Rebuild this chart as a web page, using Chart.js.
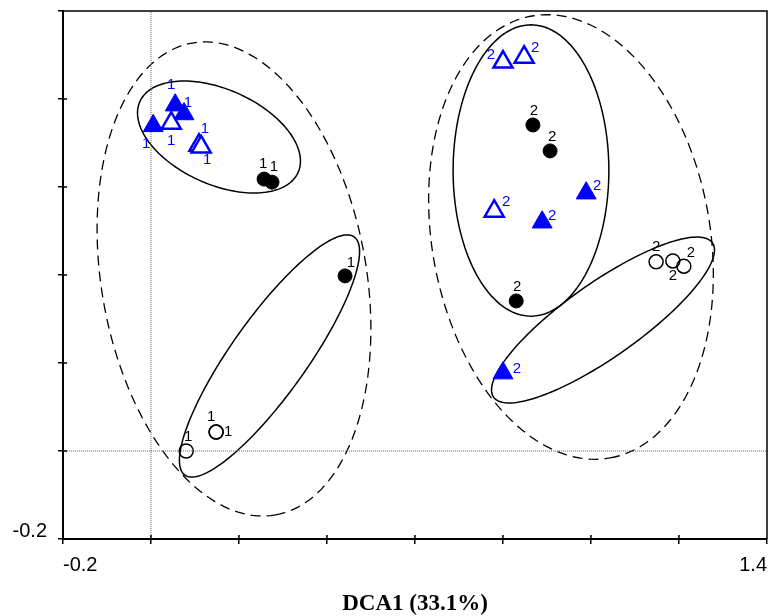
<!DOCTYPE html>
<html>
<head>
<meta charset="utf-8">
<script src="https://cdn.jsdelivr.net/npm/chart.js@4.4.1/dist/chart.umd.min.js"></script>
<style>
  html, body { margin: 0; padding: 0; background: #fff; }
</style>
</head>
<body>
<canvas id="chart" width="768" height="616"></canvas>
<script>
// axis ranges, only the end ticks carry a label
const xMin = -0.2, xMax = 1.4, yMin = -0.2, yMax = 1.0, tickStep = 0.2;
const xTickLabels = ['-0.2', '1.4'];
const yTickLabels = ['-0.2'];
const xTitle = 'DCA1 (33.1%)';

// samples, by marker type; the group number is written next to each mark
const filledTriX = [0.005, 0.055, 0.075, 0.989, 0.889, 0.800];
const filledTriY = [0.739, 0.786, 0.766, 0.586, 0.520, 0.177];
const filledTriGroup = ['1', '1', '1', '2', '2', '2'];

const openTriX = [0.046, 0.109, 0.114, 0.800, 0.848, 0.780];
const openTriY = [0.745, 0.695, 0.691, 0.884, 0.895, 0.545];
const openTriGroup = ['1', '1', '1', '2', '2', '2'];

const filledDotX = [0.257, 0.275, 0.441, 0.868, 0.907, 0.830];
const filledDotY = [0.618, 0.611, 0.398, 0.741, 0.682, 0.341];
const filledDotGroup = ['1', '1', '1', '2', '2', '2'];

const openDotX = [0.148, 0.148, 0.080, 1.148, 1.186, 1.211];
const openDotY = [0.043, 0.043, 0.000, 0.430, 0.432, 0.420];
const openDotGroup = ['1', '1', '1', '2', '2', '2'];

// ellipses round the groups (data units, angle of first axis in degrees)
const ellCx    = [0.1545, 0.2693, 0.1886, 0.8636, 1.0273, 0.9545];
const ellCy    = [0.7136, 0.2160, 0.3910, 0.6375, 0.2977, 0.4864];
const ellRa    = [0.197, 0.332, 0.5445, 0.331, 0.3043, 0.510];
const ellRb    = [0.108, 0.0861, 0.301, 0.177, 0.0845, 0.316];
const ellAngle = [-24.1, 54.6, -80, 90, 35.2, -80];

// styling only: which ellipses are dashed, where each number sits (px)
const ellDashed = [false, false, true, false, false, true];
const filledTriLabelOff = [[-7, 18], [-4, -20], [4, -11], [11, -7], [10, -6], [14, -4]];
const openTriLabelOff   = [[0, 18], [6, -16], [6, 13], [-12, -7], [11, -9], [12, -9]];
const filledDotLabelOff = [[-1, -15], [2, -15], [6, -13], [1, -14], [2, -14], [1, -14]];
const openDotLabelOff   = [[-5, -15], [12, 0], [2, -14], [0, -15], [0, 15], [7, -13]];

const blue = '#0000ff';
const sans = "'Liberation Sans', Arial, sans-serif";

function pts(xs, ys) {
    return xs.map(function (x, i) { return {x: x, y: ys[i]}; });
}

const ellipses = {
    id: 'ellipses',
    beforeDatasetsDraw(chart) {
        const {ctx, scales: {x, y}} = chart;
        ctx.save();
        ctx.strokeStyle = '#000';
        for (let i = 0; i < ellCx.length; i++) {
            const a = ellAngle[i] * Math.PI / 180;
            ctx.lineWidth = ellDashed[i] ? 1.3 : 1.5;
            ctx.setLineDash(ellDashed[i] ? [10, 6] : []);
            ctx.beginPath();
            for (let k = 0; k <= 180; k++) {
                const t = k / 180 * 2 * Math.PI;
                const dx = ellRa[i] * Math.cos(t), dy = ellRb[i] * Math.sin(t);
                const px = x.getPixelForValue(ellCx[i] + dx * Math.cos(a) - dy * Math.sin(a));
                const py = y.getPixelForValue(ellCy[i] + dx * Math.sin(a) + dy * Math.cos(a));
                if (k == 0) ctx.moveTo(px, py); else ctx.lineTo(px, py);
            }
            ctx.closePath();
            ctx.stroke();
        }
        ctx.restore();
    }
};

const pointNumbers = {
    id: 'pointNumbers',
    afterDatasetsDraw(chart) {
        const ctx = chart.ctx;
        ctx.save();
        ctx.font = '15px ' + sans;
        ctx.textAlign = 'center';
        ctx.textBaseline = 'middle';
        chart.data.datasets.forEach(function (ds, i) {
            if (!ds.numbers) return;
            ctx.fillStyle = ds.numberColor;
            chart.getDatasetMeta(i).data.forEach(function (el, j) {
                ctx.fillText(ds.numbers[j], el.x + ds.numberOff[j][0], el.y + ds.numberOff[j][1]);
            });
        });
        ctx.restore();
    }
};

const frame = {
    id: 'frame',
    afterDraw(chart) {
        const {ctx, chartArea: a, scales: {x, y}} = chart;
        ctx.save();
        ctx.strokeStyle = '#000';
        ctx.lineWidth = 1.5;
        ctx.beginPath();
        ctx.moveTo(a.left, a.top);
        ctx.lineTo(a.right, a.top);
        ctx.lineTo(a.right, a.bottom);
        // inner half of the tick crosses
        x.ticks.forEach(function (t) {
            const px = x.getPixelForValue(t.value);
            ctx.moveTo(px, a.bottom);
            ctx.lineTo(px, a.bottom - 4);
        });
        y.ticks.forEach(function (t) {
            const py = y.getPixelForValue(t.value);
            ctx.moveTo(a.left, py);
            ctx.lineTo(a.left + 4, py);
        });
        ctx.stroke();
        ctx.restore();
    }
};

new Chart(document.getElementById('chart'), {
    type: 'scatter',
    data: {
        datasets: [
            {
                data: pts(openTriX, openTriY), pointStyle: 'triangle', pointRadius: 11,
                backgroundColor: '#fff', borderColor: blue, borderWidth: 2.5,
                numbers: openTriGroup, numberOff: openTriLabelOff, numberColor: blue, order: 1
            },
            {
                data: pts(filledTriX, filledTriY), pointStyle: 'triangle', pointRadius: 11.5,
                backgroundColor: blue, borderColor: blue, borderWidth: 1,
                numbers: filledTriGroup, numberOff: filledTriLabelOff, numberColor: blue, order: 2
            },
            {
                data: pts(openDotX, openDotY), pointStyle: 'circle', pointRadius: 7,
                backgroundColor: 'rgba(255,255,255,0)', borderColor: '#000', borderWidth: 1.5,
                numbers: openDotGroup, numberOff: openDotLabelOff, numberColor: '#000', order: 3
            },
            {
                data: pts(filledDotX, filledDotY), pointStyle: 'circle', pointRadius: 7,
                backgroundColor: '#000', borderColor: '#000', borderWidth: 1,
                numbers: filledDotGroup, numberOff: filledDotLabelOff, numberColor: '#000', order: 4
            },
            {
                data: [{x: 0, y: yMin}, {x: 0, y: yMax}], showLine: true, pointRadius: 0,
                borderColor: '#666', borderWidth: 1, borderDash: [1, 1], order: 9
            },
            {
                data: [{x: xMin, y: 0}, {x: xMax, y: 0}], showLine: true, pointRadius: 0,
                borderColor: '#666', borderWidth: 1, borderDash: [1, 1], order: 9
            }
        ]
    },
    options: {
        responsive: false,
        animation: false,
        events: [],
        layout: {autoPadding: false, padding: {top: 11, right: 1, left: 0, bottom: 0}},
        plugins: {legend: {display: false}, tooltip: {enabled: false}},
        scales: {
            x: {
                min: xMin, max: xMax,
                afterFit: function (scale) {
                    scale.height = 77;
                    scale.paddingLeft = 0;
                    scale.paddingRight = 0;
                },
                border: {display: true, color: '#000', width: 2},
                grid: {drawOnChartArea: false, color: '#000', lineWidth: 1.5, tickLength: 5},
                ticks: {
                    stepSize: tickStep, autoSkip: false, maxRotation: 0, align: 'inner',
                    padding: 9, color: '#000', font: {family: sans, size: 20},
                    callback: function (v, i, ticks) {
                        if (i == 0) return xTickLabels[0];
                        if (i == ticks.length - 1) return xTickLabels[1];
                        return '';
                    }
                },
                title: {
                    display: true, text: xTitle, color: '#000', padding: {top: 0, bottom: 0},
                    font: {family: "'Liberation Serif', 'Times New Roman', serif", size: 23, weight: 'bold', lineHeight: 1}
                }
            },
            y: {
                min: yMin, max: yMax,
                afterFit: function (scale) {
                    scale.width = 63;
                    scale.paddingTop = 0;
                    scale.paddingBottom = 0;
                },
                border: {display: true, color: '#000', width: 2},
                grid: {drawOnChartArea: false, color: '#000', lineWidth: 1.5, tickLength: 5},
                ticks: {
                    stepSize: tickStep, autoSkip: false, labelOffset: -8,
                    padding: 11, color: '#000', font: {family: sans, size: 20},
                    callback: function (v, i) { return i == 0 ? yTickLabels[0] : ''; }
                }
            }
        }
    },
    plugins: [ellipses, pointNumbers, frame]
});
</script>
</body>
</html>
